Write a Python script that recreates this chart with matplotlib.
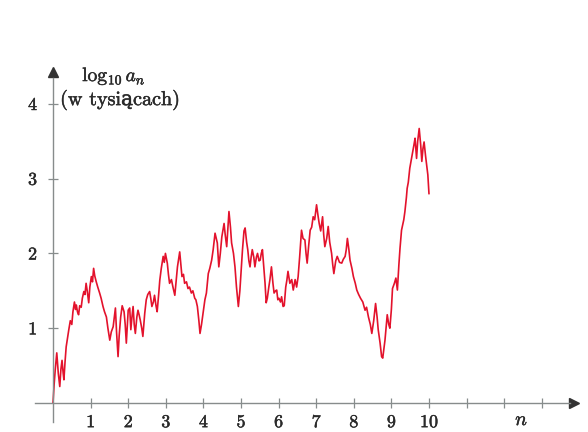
import matplotlib
matplotlib.use("Agg")
import matplotlib.pyplot as plt
import matplotlib.patheffects as pe

plt.rcParams["mathtext.fontset"] = "cm"
plt.rcParams["font.family"] = ["cmr10", "DejaVu Serif"]
plt.rcParams["axes.formatter.use_mathtext"] = True

# n (w tysiącach) and log10 a_n
n = [0.00, 0.03, 0.06, 0.10, 0.14, 0.18, 0.21, 0.24, 0.27, 0.29,
     0.32, 0.35, 0.38, 0.42, 0.46, 0.50, 0.53, 0.57, 0.60, 0.62,
     0.65, 0.68, 0.71, 0.75, 0.78, 0.82, 0.85, 0.88, 0.91, 0.95,
     0.98, 1.02, 1.05, 1.08, 1.11, 1.15, 1.19, 1.24, 1.28, 1.33,
     1.37, 1.42, 1.46, 1.51, 1.55, 1.60, 1.63, 1.66, 1.69, 1.73,
     1.76, 1.80, 1.84, 1.89, 1.92, 1.95, 2.00, 2.04, 2.07, 2.10,
     2.13, 2.16, 2.19, 2.23, 2.26, 2.29, 2.32, 2.36, 2.39, 2.44,
     2.48, 2.52, 2.57, 2.60, 2.63, 2.67, 2.70, 2.74, 2.77, 2.81,
     2.84, 2.88, 2.93, 2.96, 2.99, 3.04, 3.07, 3.10, 3.15, 3.19,
     3.24, 3.28, 3.31, 3.37, 3.40, 3.43, 3.47, 3.50, 3.55, 3.59,
     3.63, 3.68, 3.72, 3.77, 3.80, 3.84, 3.88, 3.91, 3.95, 3.99,
     4.04, 4.08, 4.13, 4.17, 4.22, 4.26, 4.31, 4.37, 4.41, 4.45,
     4.49, 4.55, 4.58, 4.62, 4.68, 4.72, 4.75, 4.80, 4.84, 4.88,
     4.93, 4.97, 5.00, 5.04, 5.08, 5.11, 5.15, 5.18, 5.21, 5.24,
     5.27, 5.30, 5.34, 5.37, 5.41, 5.44, 5.48, 5.51, 5.54, 5.57,
     5.60, 5.64, 5.67, 5.70, 5.74, 5.77, 5.81, 5.85, 5.88, 5.92,
     5.95, 5.98, 6.01, 6.05, 6.08, 6.12, 6.15, 6.19, 6.22, 6.25,
     6.30, 6.35, 6.39, 6.44, 6.48, 6.52, 6.56, 6.61, 6.65, 6.70,
     6.73, 6.76, 6.80, 6.84, 6.88, 6.92, 6.96, 7.01, 7.05, 7.08,
     7.12, 7.17, 7.20, 7.23, 7.28, 7.32, 7.36, 7.41, 7.44, 7.47,
     7.52, 7.56, 7.62, 7.68, 7.72, 7.77, 7.80, 7.83, 7.87, 7.90,
     7.95, 7.99, 8.04, 8.08, 8.13, 8.18, 8.24, 8.30, 8.34, 8.39,
     8.44, 8.48, 8.53, 8.58, 8.62, 8.65, 8.70, 8.74, 8.77, 8.80,
     8.83, 8.89, 8.93, 8.96, 9.00, 9.03, 9.08, 9.12, 9.16, 9.20,
     9.23, 9.27, 9.30, 9.33, 9.36, 9.40, 9.42, 9.45, 9.49, 9.53,
     9.57, 9.60, 9.63, 9.67, 9.70, 9.74, 9.78, 9.81, 9.84, 9.87,
     9.91, 9.94, 9.97, 10.00]
log_a = [0.00, 0.25, 0.45, 0.67, 0.40, 0.22, 0.45, 0.57, 0.40, 0.31,
         0.55, 0.75, 0.85, 0.98, 1.10, 1.05, 1.22, 1.35, 1.25, 1.31,
         1.22, 1.18, 1.30, 1.28, 1.40, 1.49, 1.45, 1.60, 1.50, 1.34,
         1.55, 1.69, 1.62, 1.80, 1.70, 1.62, 1.55, 1.47, 1.40, 1.29,
         1.22, 1.15, 1.00, 0.84, 0.95, 1.02, 1.15, 1.27, 0.95, 0.62,
         0.90, 1.15, 1.30, 1.22, 1.05, 0.80, 1.24, 1.27, 0.98, 1.15,
         1.29, 1.05, 0.93, 1.15, 1.24, 1.18, 1.11, 1.00, 0.89, 1.20,
         1.38, 1.45, 1.49, 1.40, 1.29, 1.35, 1.44, 1.30, 1.22, 1.45,
         1.64, 1.80, 1.96, 1.88, 2.00, 1.87, 1.72, 1.60, 1.65, 1.55,
         1.44, 1.65, 1.82, 2.02, 1.85, 1.69, 1.72, 1.60, 1.62, 1.53,
         1.55, 1.47, 1.50, 1.40, 1.38, 1.29, 1.10, 0.93, 1.05, 1.20,
         1.38, 1.47, 1.73, 1.80, 1.91, 2.05, 2.27, 2.14, 1.82, 2.00,
         2.22, 2.40, 2.25, 2.09, 2.56, 2.35, 2.14, 2.00, 1.82, 1.55,
         1.29, 1.50, 1.73, 2.05, 2.30, 2.34, 2.15, 2.05, 1.90, 1.82,
         1.95, 2.05, 1.95, 1.82, 1.95, 2.00, 1.90, 1.91, 2.00, 2.05,
         1.85, 1.60, 1.34, 1.40, 1.55, 1.65, 1.82, 1.60, 1.47, 1.50,
         1.51, 1.38, 1.40, 1.35, 1.42, 1.29, 1.30, 1.55, 1.64, 1.76,
         1.60, 1.65, 1.51, 1.65, 1.55, 1.69, 1.95, 2.31, 2.20, 2.18,
         2.00, 1.87, 2.10, 2.31, 2.35, 2.49, 2.45, 2.65, 2.50, 2.40,
         2.30, 2.49, 2.25, 2.09, 2.20, 2.36, 2.15, 2.00, 1.85, 1.73,
         1.90, 1.96, 1.88, 1.87, 1.92, 1.96, 2.05, 2.20, 2.05, 1.91,
         1.80, 1.69, 1.60, 1.51, 1.45, 1.40, 1.35, 1.24, 1.28, 1.15,
         1.05, 0.93, 1.10, 1.33, 1.15, 0.98, 0.80, 0.62, 0.60, 0.72,
         0.84, 1.18, 1.05, 1.00, 1.25, 1.53, 1.60, 1.67, 1.51, 1.85,
         2.07, 2.31, 2.38, 2.45, 2.56, 2.75, 2.87, 2.95, 3.14, 3.25,
         3.36, 3.45, 3.54, 3.27, 3.50, 3.67, 3.45, 3.23, 3.40, 3.49,
         3.30, 3.18, 3.05, 2.80]

x_ticks = list(range(1, 14))
x_labels = [str(i) for i in range(1, 11)] + ["", "", ""]
y_ticks = [1, 2, 3, 4]

axis_col = "#878c8c"
text_col = "#2a2a2a"
line_col = "#e3122c"
heavy = [pe.withStroke(linewidth=0.35, foreground=text_col)]

fig = plt.figure(figsize=(5.88, 4.32), dpi=100)
ax = fig.add_axes([0, 0, 1, 1])
ax.set_xlim(-1.41, 14.23)
ax.set_ylim(-0.388, 5.388)

ax.plot(n, log_a, color=line_col, lw=1.2)

# axes through the origin, with arrows
for side in ("top", "right"):
    ax.spines[side].set_visible(False)
ax.spines["left"].set_position(("data", 0))
ax.spines["bottom"].set_position(("data", 0))
ax.spines["left"].set_bounds(-0.25, 4.35)
ax.spines["bottom"].set_bounds(-0.48, 13.75)
for side in ("left", "bottom"):
    ax.spines[side].set_color(axis_col)
    ax.spines[side].set_linewidth(1.0)
ax.plot([13.85], [0], marker=">", ms=6.5, color="#333333", clip_on=False)
ax.plot([0], [4.42], marker="^", ms=6.5, color="#333333", clip_on=False)

ax.set_xticks(x_ticks, x_labels)
ax.set_yticks(y_ticks, [str(v) for v in y_ticks])
ax.tick_params(direction="inout", length=7, width=0.9, color=axis_col,
               labelsize=13, labelcolor=text_col)
ax.tick_params(axis="y", pad=8)
ax.tick_params(axis="x", pad=5)
for lab in ax.get_xticklabels() + ax.get_yticklabels():
    lab.set_path_effects(heavy)

ax.text(12.47, -0.23, "$n$", ha="center", va="center", fontsize=14,
        color=text_col, path_effects=heavy)
ax.text(1.62, 4.37, r"$\log_{10} a_n$", ha="center", va="center", fontsize=14,
        color=text_col, path_effects=heavy)
ax.text(1.78, 4.05, "(w tysiącach)", ha="center", va="center", fontsize=14.5,
        color=text_col, family=["cmr10", "DejaVu Serif"], path_effects=heavy)

fig.savefig("out.png", dpi=100)
